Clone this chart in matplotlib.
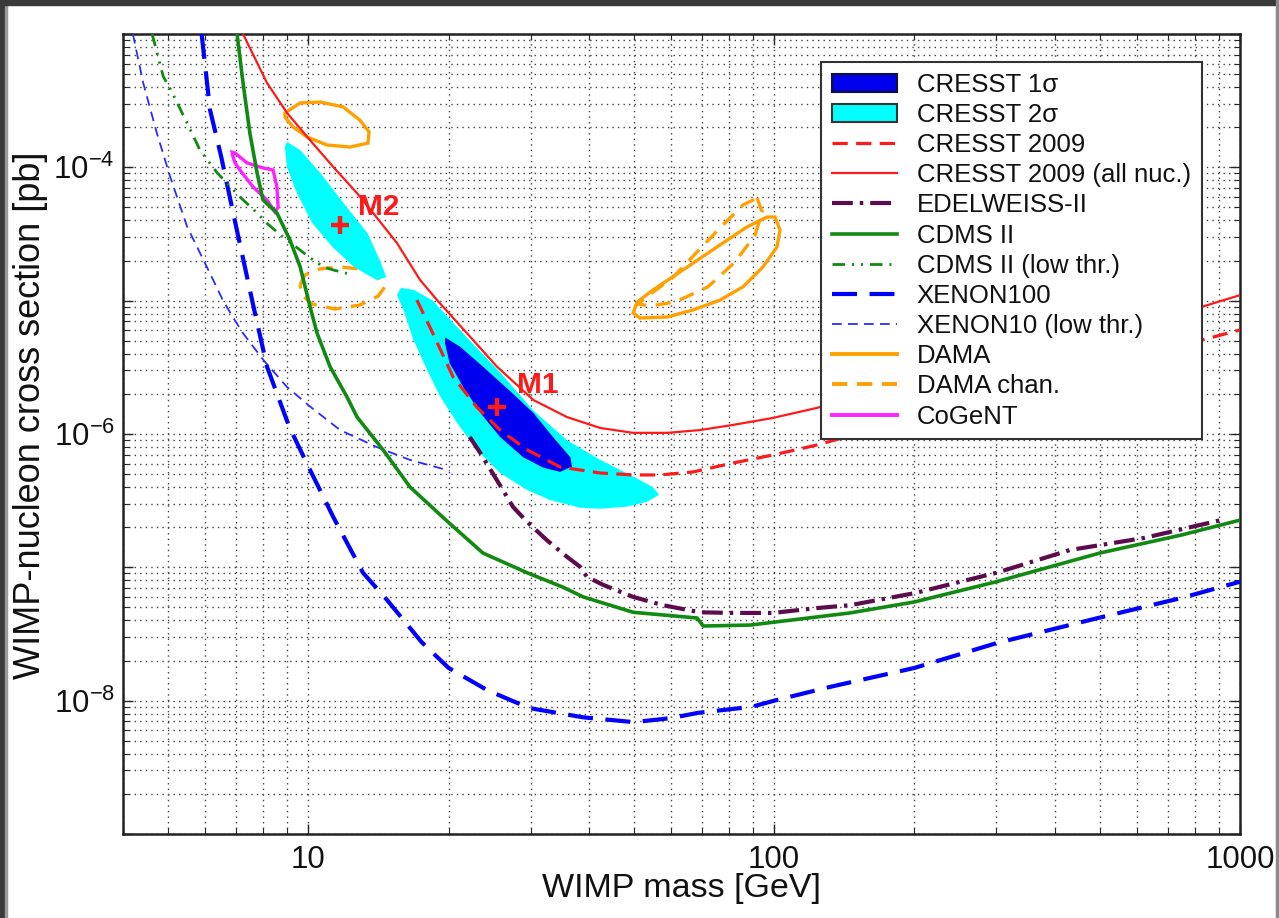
import math
import matplotlib
matplotlib.use("Agg")
import matplotlib.pyplot as plt
from matplotlib.patches import Patch, Polygon, Rectangle
from matplotlib.lines import Line2D
from matplotlib.ticker import FixedLocator, FuncFormatter, NullFormatter

plt.rcParams["font.family"] = ["Liberation Sans", "DejaVu Sans"]
plt.rcParams["mathtext.fontset"] = "custom"
plt.rcParams["mathtext.rm"] = "Liberation Sans"
plt.rcParams["mathtext.it"] = "Liberation Sans:italic"
plt.rcParams["mathtext.bf"] = "Liberation Sans:bold"
plt.rcParams["lines.scale_dashes"] = False

# ---------------- exclusion limits: WIMP mass [GeV] vs cross section [pb]
xenon100_mass = [5.9, 6.15, 6.5, 6.9, 7.6, 8.15, 9.1, 10.0, 11.3, 13.1, 14.75, 17.5, 20.0,
                 24.2, 29.8, 38.9, 50.0, 60.0, 68.6, 89.6, 100, 132, 200, 300, 500, 750, 1000]
xenon100_xs = [1.0e-3, 2.7e-4, 1.2e-4, 4.5e-5, 9.5e-6, 3.2e-6, 1.13e-6, 5.7e-7, 2.4e-7, 9.1e-8,
               5.7e-8, 2.75e-8, 1.76e-8, 1.2e-8, 8.8e-9, 7.5e-9, 6.9e-9, 7.4e-9, 8.1e-9, 9.0e-9,
               1.0e-8, 1.27e-8, 1.76e-8, 2.7e-8, 4.2e-8, 5.9e-8, 7.8e-8]

xenon10_mass = [4.2, 4.42, 4.73, 5.05, 5.49, 6.15, 6.56, 6.89, 7.24, 8.0, 9.0, 10.1, 11.7, 14.0, 16.5, 20.1]
xenon10_xs = [1.0e-3, 4.3e-4, 1.8e-4, 8.5e-5, 3.6e-5, 1.6e-5, 1.0e-5, 7.5e-6, 5.7e-6, 3.6e-6,
              2.25e-6, 1.6e-6, 1.07e-6, 8.0e-7, 6.4e-7, 5.3e-7]

cdms_mass = [7.03, 7.24, 7.49, 7.76, 7.99, 8.56, 9.13, 9.6, 10.1, 10.44, 11.13, 12.1, 12.72, 14.47,
             16.53, 19.94, 23.7, 29.5, 35.2, 38.9, 49.8, 68.3, 70.4, 88.8, 145.5, 200, 300, 500, 750, 1000]
cdms_xs = [1.0e-3, 4.3e-4, 1.8e-4, 9.1e-5, 5.7e-5, 4.55e-5, 2.85e-5, 1.8e-5, 8.8e-6, 5.7e-6, 3.2e-6,
           1.9e-6, 1.34e-6, 7.6e-7, 4.0e-7, 2.19e-7, 1.28e-7, 9.1e-8, 7.1e-8, 6.0e-8, 4.6e-8, 4.17e-8,
           3.63e-8, 3.69e-8, 4.55e-8, 5.5e-8, 7.8e-8, 1.28e-7, 1.75e-7, 2.26e-7]

cdms_low_mass = [4.62, 4.88, 5.05, 5.49, 5.85, 6.37, 6.69, 7.13, 7.76, 8.15, 8.82, 9.45, 10.08, 10.75, 11.3, 12.1]
cdms_low_xs = [1.0e-3, 4.8e-4, 3.9e-4, 2.15e-4, 1.35e-4, 9.1e-5, 7.6e-5, 6.0e-5, 4.55e-5, 3.8e-5,
               3.0e-5, 2.5e-5, 2.1e-5, 1.8e-5, 1.7e-5, 1.6e-5]

edelweiss_mass = [22.2, 23.4, 25.4, 27.5, 29.5, 32.5, 35.9, 38.3, 39.6, 42.9, 49.8, 57.7, 69.3, 81.6,
                  99.4, 123.6, 145.6, 200, 300, 432, 622, 930]
edelweiss_xs = [9.5e-7, 7.2e-7, 4.5e-7, 2.84e-7, 2.19e-7, 1.6e-7, 1.2e-7, 1.01e-7, 8.5e-8, 7.4e-8,
                6.0e-8, 5.2e-8, 4.6e-8, 4.55e-8, 4.55e-8, 4.95e-8, 5.2e-8, 6.4e-8, 9.1e-8, 1.35e-7,
                1.66e-7, 2.3e-7]

cresst_all_mass = [7.24, 8.15, 9.0, 10.08, 11.3, 12.72, 13.77, 15.5, 17.37, 18.89, 21.9, 25.4, 30.4,
                   35.9, 42.3, 49.8, 58.9, 69.3, 81.6, 99.4, 123.6, 186, 305, 500, 829, 1000]
cresst_all_xs = [1.0e-3, 4.3e-4, 2.56e-4, 1.6e-4, 1.01e-4, 6.4e-5, 4.55e-5, 2.7e-5, 1.43e-5, 1.01e-5,
                 5.7e-6, 3.2e-6, 1.8e-6, 1.34e-6, 1.11e-6, 1.02e-6, 1.02e-6, 1.07e-6, 1.17e-6,
                 1.32e-6, 1.57e-6, 2.33e-6, 3.78e-6, 6.0e-6, 9.0e-6, 1.1e-5]

cresst09_mass = [17.1, 18.5, 20.45, 23.0, 25.8, 29.5, 34.7, 42.3, 49.8, 56.9, 66.9, 81.6, 99.4, 123.6,
                 186, 305, 500, 829, 1000]
cresst09_xs = [1.01e-5, 5.7e-6, 2.68e-6, 1.59e-6, 1.07e-6, 7.6e-7, 5.66e-7, 5.1e-7, 4.93e-7, 4.93e-7,
               5.19e-7, 6.06e-7, 6.96e-7, 8.27e-7, 1.23e-6, 1.96e-6, 3.18e-6, 5.07e-6, 6.03e-6]

# ---------------- allowed regions (closed contours)
cresst2s_m1_mass = [15.8, 16.9, 18.5, 21.9, 25.8, 30.4, 35.9, 42.3, 49.8, 54.9, 56.6, 53.3, 48.3,
                    42.3, 38.3, 33.0, 29.5, 25.8, 23.0, 20.9, 19.2, 18.0, 16.8, 16.0, 15.5]
cresst2s_m1_xs = [1.25e-5, 1.2e-5, 1.0e-5, 5.3e-6, 2.9e-6, 1.5e-6, 9.0e-7, 6.4e-7, 4.8e-7, 4.0e-7,
                  3.5e-7, 3.1e-7, 2.85e-7, 2.75e-7, 2.8e-7, 3.2e-7, 3.8e-7, 5.1e-7, 7.6e-7, 1.2e-6,
                  1.9e-6, 3.0e-6, 5.1e-6, 8.5e-6, 1.1e-5]

cresst2s_m2_mass = [9.0, 9.6, 10.6, 11.9, 13.4, 14.25, 14.7, 14.0, 12.5, 11.3, 10.2, 9.45, 9.0, 8.9]
cresst2s_m2_xs = [1.55e-4, 1.35e-4, 9.1e-5, 5.4e-5, 3.2e-5, 2.0e-5, 1.5e-5, 1.43e-5, 1.8e-5, 2.5e-5,
                  3.8e-5, 6.4e-5, 1.0e-4, 1.42e-4]

cresst1s_mass = [19.65, 21.2, 23.7, 27.1, 30.4, 33.5, 36.5, 36.8, 34.7, 31.9, 28.9, 25.8, 23.4, 21.5, 20.1, 19.65]
cresst1s_xs = [5.3e-6, 4.5e-6, 3.2e-6, 2.1e-6, 1.44e-6, 9.5e-7, 6.7e-7, 5.7e-7, 5.2e-7, 5.6e-7,
               6.7e-7, 9.5e-7, 1.44e-6, 2.25e-6, 3.4e-6, 4.8e-6]

dama_low_mass = [8.91, 9.6, 10.59, 11.87, 12.9, 13.5, 13.43, 12.29, 10.97, 9.93, 9.27, 8.91]
dama_low_xs = [2.56e-4, 3.04e-4, 3.09e-4, 2.84e-4, 2.26e-4, 1.84e-4, 1.52e-4, 1.42e-4, 1.47e-4,
               1.69e-4, 2.01e-4, 2.38e-4]

dama_high_mass = [100.4, 102.9, 101.4, 94.6, 85.7, 76.5, 66.9, 58.9, 51.5, 49.8, 50.8, 54.9, 63.7, 75.4, 87.4, 96.5]
dama_high_xs = [4.24e-5, 3.39e-5, 2.53e-5, 1.79e-5, 1.27e-5, 1.01e-5, 8.51e-6, 7.54e-6, 7.41e-6,
                8.08e-6, 9.77e-6, 1.2e-5, 1.7e-5, 2.53e-5, 3.57e-5, 4.24e-5]

dama_chan_low_mass = [9.6, 9.83, 10.59, 11.7, 12.9, 14.11, 14.6, 14.11, 12.9, 11.41, 10.18, 9.69]
dama_chan_low_xs = [1.31e-5, 1.56e-5, 1.73e-5, 1.79e-5, 1.73e-5, 1.5e-5, 1.27e-5, 1.08e-5, 9.28e-6,
                    8.66e-6, 9.44e-6, 1.1e-5]

dama_chan_high_mass = [91.9, 94.2, 91.0, 82.4, 72.1, 61.3, 54.1, 51.0, 53.3, 60.7, 68.3, 76.5, 85.7]
dama_chan_high_xs = [5.89e-5, 4.62e-5, 3.11e-5, 1.95e-5, 1.27e-5, 9.77e-6, 9.12e-6, 9.44e-6, 1.07e-5,
                     1.5e-5, 2.32e-5, 3.51e-5, 5.22e-5]

cogent_mass = [6.86, 6.96, 7.38, 7.99, 8.40, 8.56, 8.61, 8.48, 8.15, 7.61, 7.13, 6.96, 6.89]
cogent_xs = [1.30e-4, 1.28e-4, 1.08e-4, 9.89e-5, 9.55e-5, 7.12e-5, 5.04e-5, 4.62e-5, 5.69e-5,
             7.12e-5, 9.55e-5, 1.08e-4, 1.20e-4]

# best-fit points
best_fit_names = ["M1", "M2"]
best_fit_mass = [25.4, 11.7]
best_fit_xs = [1.59e-6, 3.69e-5]
label_mass = [28.0, 12.8]
label_xs = [2.03e-6, 4.39e-5]

# axis ticks
x_major = [10, 100, 1000]
x_labels = ["10", "100", "1000"]
y_major_exp = [-9, -8, -7, -6, -5, -4, -3]
y_labelled_exp = [-8, -6, -4]

# ---------------- styles
C_XENON = "#0000ff"
C_XENON10 = "#2b2bff"
C_CDMS = "#118a11"
C_EDEL = "#5c0c4c"
C_RED = "#ff1a1a"
C_DAMA = "#ffa000"
C_COGENT = "#ff22ff"
C_1S = "#0000ee"
C_2S = "#00ffff"

W, H = 1279, 918
fig = plt.figure(figsize=(W / 100, H / 100), dpi=100)
ax = fig.add_axes([123 / W, 1 - 834 / H, (1240 - 123) / W, 800 / H])
ax.set_xscale("log")
ax.set_yscale("log")
ax.set_xlim(4, 1000)
ax.set_ylim(1e-9, 1e-3)

# grid
ax.set_axisbelow(True)
ax.grid(True, which="both", linestyle=(0, (1, 3)), color="0.25", linewidth=1.0)

# regions
ax.add_patch(Polygon(list(zip(dama_chan_low_mass, dama_chan_low_xs)), closed=True, fill=False,
                     edgecolor=C_DAMA, lw=2.4, linestyle=(0, (11, 7)), zorder=2))
ax.add_patch(Polygon(list(zip(cresst2s_m1_mass, cresst2s_m1_xs)), closed=True,
                     facecolor=C_2S, edgecolor="none", zorder=3))
ax.add_patch(Polygon(list(zip(cresst2s_m2_mass, cresst2s_m2_xs)), closed=True,
                     facecolor=C_2S, edgecolor="none", zorder=3))
ax.add_patch(Polygon(list(zip(cresst1s_mass, cresst1s_xs)), closed=True,
                     facecolor=C_1S, edgecolor="none", zorder=4))
ax.add_patch(Polygon(list(zip(dama_low_mass, dama_low_xs)), closed=True, fill=False,
                     edgecolor=C_DAMA, lw=2.4, zorder=5))
ax.add_patch(Polygon(list(zip(dama_high_mass, dama_high_xs)), closed=True, fill=False,
                     edgecolor=C_DAMA, lw=2.4, zorder=5))
ax.add_patch(Polygon(list(zip(dama_chan_high_mass, dama_chan_high_xs)), closed=True, fill=False,
                     edgecolor=C_DAMA, lw=2.4, linestyle=(0, (11, 7)), zorder=5))
ax.add_patch(Polygon(list(zip(cogent_mass, cogent_xs)), closed=True, fill=False,
                     edgecolor=C_COGENT, lw=2.4, zorder=5))

# limit curves
sty = {
    "cresst09": dict(color=C_RED, lw=2.3, dashes=(11, 6)),
    "cresst_all": dict(color=C_RED, lw=1.6),
    "edelweiss": dict(color=C_EDEL, lw=3.0, dashes=(15, 5, 2.5, 5)),
    "cdms": dict(color=C_CDMS, lw=2.6),
    "cdms_low": dict(color=C_CDMS, lw=2.0, dashes=(9, 5, 1.5, 5, 1.5, 5)),
    "xenon100": dict(color=C_XENON, lw=3.0, dashes=(18, 9)),
    "xenon10": dict(color=C_XENON10, lw=1.3, dashes=(7, 4.5)),
}
ax.plot(xenon10_mass, xenon10_xs, zorder=6, **sty["xenon10"])
ax.plot(xenon100_mass, xenon100_xs, zorder=6, **sty["xenon100"])
ax.plot(cdms_low_mass, cdms_low_xs, zorder=6, **sty["cdms_low"])
ax.plot(cdms_mass, cdms_xs, zorder=6, **sty["cdms"])
ax.plot(edelweiss_mass, edelweiss_xs, zorder=6, **sty["edelweiss"])
ax.plot(cresst_all_mass, cresst_all_xs, zorder=6, **sty["cresst_all"])
ax.plot(cresst09_mass, cresst09_xs, zorder=6, **sty["cresst09"])

# best-fit markers and labels
ax.plot(best_fit_mass, best_fit_xs, linestyle="none", marker="+", markersize=13,
        markeredgewidth=3.2, color=C_RED, zorder=8)
for name, m, s in zip(best_fit_names, label_mass, label_xs):
    ax.text(m, s, name, color=C_RED, fontsize=21.5, fontweight="bold", ha="left",
            va="baseline", zorder=8)

# ticks
ax.xaxis.set_major_locator(FixedLocator(x_major))
ax.xaxis.set_major_formatter(FuncFormatter(lambda v, p: x_labels[x_major.index(round(v))]
                                           if round(v) in x_major else ""))
x_minor = [k * 10 ** d for d in range(0, 3) for k in range(2, 10) if 4 <= k * 10 ** d <= 1000]
ax.xaxis.set_minor_locator(FixedLocator(x_minor))
ax.xaxis.set_minor_formatter(NullFormatter())

ax.yaxis.set_major_locator(FixedLocator([10.0 ** e for e in y_major_exp]))


def y_fmt(v, p):
    e = int(round(math.log10(v)))
    return r"$\mathdefault{10^{%d}}$" % e if e in y_labelled_exp else ""


ax.yaxis.set_major_formatter(FuncFormatter(y_fmt))
y_minor = [k * 10.0 ** e for e in range(-9, -3) for k in range(2, 10)]
ax.yaxis.set_minor_locator(FixedLocator(y_minor))
ax.yaxis.set_minor_formatter(NullFormatter())

ax.tick_params(which="both", direction="in", top=True, right=True, colors="0.15")
ax.tick_params(which="major", length=7, width=1.0, labelsize=22.5, labelcolor="#111111")
ax.tick_params(axis="x", which="major", pad=8)
ax.tick_params(axis="y", which="major", pad=6)
ax.tick_params(which="minor", length=4, width=0.8)
for sp in ax.spines.values():
    sp.set_linewidth(1.8)
    sp.set_color("#222222")

ax.set_xlabel("WIMP mass [GeV]", fontsize=24.5, color="#111111")
ax.set_ylabel("WIMP-nucleon cross section [pb]", fontsize=26, color="#111111")
ax.xaxis.set_label_coords(0.5, -0.049)
ax.yaxis.set_label_coords(-0.067, 0.524)

# legend
handles = [
    Patch(facecolor=C_1S, edgecolor="#111133", lw=1.5),
    Patch(facecolor=C_2S, edgecolor="#333333", lw=1.5),
    Line2D([], [], **sty["cresst09"]),
    Line2D([], [], **sty["cresst_all"]),
    Line2D([], [], **sty["edelweiss"]),
    Line2D([], [], **sty["cdms"]),
    Line2D([], [], **sty["cdms_low"]),
    Line2D([], [], **sty["xenon100"]),
    Line2D([], [], **sty["xenon10"]),
    Line2D([], [], color=C_DAMA, lw=2.8),
    Line2D([], [], color=C_DAMA, lw=2.8, dashes=(11, 7)),
    Line2D([], [], color=C_COGENT, lw=2.8),
]
labels = ["CRESST 1\u03c3", "CRESST 2\u03c3", "CRESST 2009", "CRESST 2009 (all nuc.)",
          "EDELWEISS-II", "CDMS II", "CDMS II (low thr.)", "XENON100", "XENON10 (low thr.)",
          "DAMA", "DAMA chan.", "CoGeNT"]
leg = ax.legend(handles, labels, loc="upper left",
                bbox_to_anchor=((821 - 123) / 1117, (834 - 62) / 800),
                borderaxespad=0, fontsize=18.5, frameon=True, fancybox=False,
                framealpha=1, edgecolor="#333333", handlelength=2.55, handleheight=0.7,
                handletextpad=0.75, borderpad=0.42, labelspacing=0.24)
leg.get_frame().set_linewidth(1.5)
leg.set_zorder(20)
for t in leg.get_texts():
    t.set_color("#111111")

# dark screen border
fig.add_artist(Rectangle((0, 0), 5 / W, 1, transform=fig.transFigure, color="#3a3a3a", zorder=50))
fig.add_artist(Rectangle((5 / W, 0), 2 / W, 1, transform=fig.transFigure, color="#9a9a9a", zorder=50))
fig.add_artist(Rectangle((0, 1 - 5 / H), 1, 5 / H, transform=fig.transFigure, color="#3a3a3a", zorder=50))
fig.add_artist(Rectangle((1276 / W, 0), 2 / W, 1, transform=fig.transFigure, color="#8a8a8a", zorder=50))

fig.savefig("out.png", dpi=100)
